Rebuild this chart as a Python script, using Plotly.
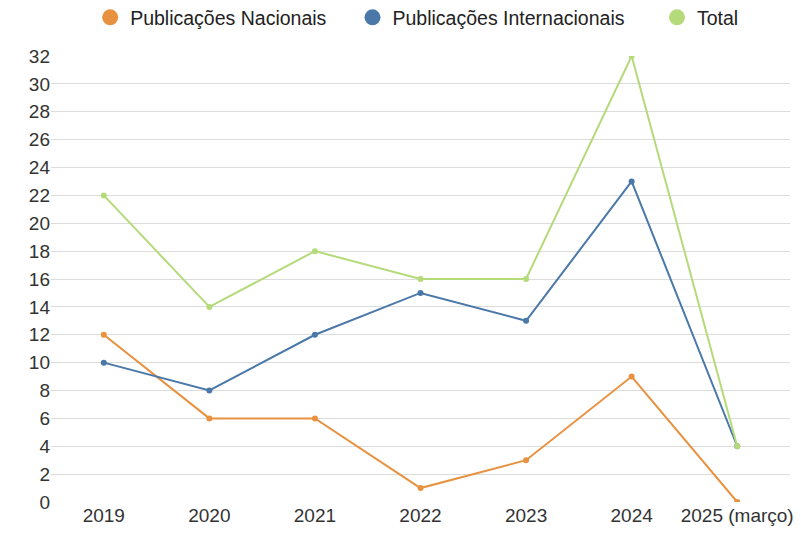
import plotly.graph_objects as go

categories = ["2019", "2020", "2021", "2022", "2023", "2024", "2025 (março)"]
nacionais = [12, 6, 6, 1, 3, 9, 0]
internacionais = [10, 8, 12, 15, 13, 23, 4]
total = [22, 14, 18, 16, 16, 32, 4]
y_ticks = list(range(0, 33, 2))

series = [
    ("Publicações Nacionais", nacionais, "#E8913F", "legend"),
    ("Publicações Internacionais", internacionais, "#4A78A8", "legend2"),
    ("Total", total, "#B5DA7A", "legend3"),
]

fig = go.Figure()
for name, vals, color, lg in series:
    fig.add_trace(go.Scatter(
        x=categories, y=vals, name=name, mode="lines+markers",
        line=dict(color=color, width=2),
        marker=dict(color=color, size=6),
        showlegend=False,
    ))
for name, vals, color, lg in series:
    fig.add_trace(go.Scatter(
        x=[None], y=[None], name=name, mode="markers",
        marker=dict(color=color, size=20),
        showlegend=True, legend=lg,
    ))

FONT = "Liberation Sans, Arial, sans-serif"
FS_LEG = 19.5
FS_TICK = 19
leg_common = dict(orientation="h", yref="paper", y=1.086, yanchor="middle",
                  xanchor="left", font=dict(size=FS_LEG, color="#222222", family=FONT),
                  itemsizing="trace", bgcolor="rgba(0,0,0,0)")

fig.update_layout(
    width=801, height=525,
    margin=dict(l=43, r=19, t=48, b=31, autoexpand=False),
    paper_bgcolor="white", plot_bgcolor="white",
    font=dict(family=FONT, size=FS_TICK, color="#333333"),
    legend=dict(x=0.053, **leg_common),
    legend2=dict(x=0.408, **leg_common),
    legend3=dict(x=0.820, **leg_common),
)
fig.update_xaxes(type="category", range=[-0.5, 6.5], showgrid=False, showline=False,
                 zeroline=False, ticks="", tickfont=dict(size=FS_TICK, color="#333333"))
fig.update_yaxes(range=[0, 32], tickvals=y_ticks, showgrid=True, gridcolor="#DCDCDC",
                 gridwidth=1, zeroline=False, showline=False, ticks="",
                 tickfont=dict(size=FS_TICK, color="#333333"))

fig.write_html("out.html")
